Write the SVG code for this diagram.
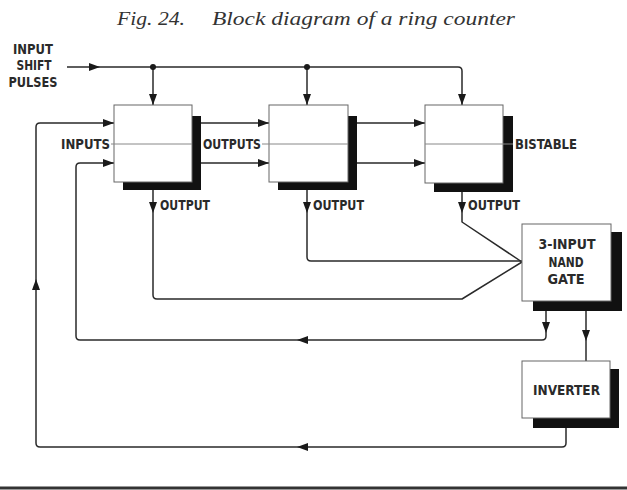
<svg xmlns="http://www.w3.org/2000/svg" xmlns:xlink="http://www.w3.org/1999/xlink" width="627" height="490" viewBox="0 0 627 490">
<style>
.lbl{font-family:"DejaVu Sans Condensed","Liberation Sans Narrow","Liberation Sans",sans-serif;font-size:13.5px;font-weight:bold;fill:#2a2a2a;}
.ttl{font-family:"Liberation Serif","Times New Roman",serif;font-style:italic;font-size:19px;fill:#333;}
.box{fill:#fff;stroke:#666;stroke-width:1;}
.shd{fill:#111;}
.mid{stroke:#888;stroke-width:1;fill:none;}
.wire{fill:none;stroke:#2a2a2a;stroke-width:1.5;stroke-linejoin:round;}
</style>
<defs>
<path id="ah" d="M0,0 L-11,-4 L-11,4 Z" fill="#1a1a1a"/>
</defs>
<rect width="627" height="490" fill="#fff"/>
<text class="ttl" x="117" y="25" textLength="68" lengthAdjust="spacingAndGlyphs">Fig. 24.</text>
<text class="ttl" x="212" y="25" textLength="303" lengthAdjust="spacingAndGlyphs">Block diagram of a ring counter</text>

<g id="input-label">
<text class="lbl" x="33" y="54" text-anchor="middle" textLength="40" lengthAdjust="spacingAndGlyphs">INPUT</text>
<text class="lbl" x="34" y="70" text-anchor="middle" textLength="35" lengthAdjust="spacingAndGlyphs">SHIFT</text>
<text class="lbl" x="33" y="87" text-anchor="middle" textLength="49" lengthAdjust="spacingAndGlyphs">PULSES</text>
</g>

<g id="connectors">
<path class="wire" d="M67,67 H458 Q462,67 462,71 V105"/>
<path class="wire" d="M153,67 V105"/>
<path class="wire" d="M307,67 V105"/>
<circle cx="153" cy="67" r="3" fill="#1a1a1a"/>
<circle cx="307" cy="67" r="3" fill="#1a1a1a"/>
<path class="wire" d="M201,123 H269 M201,163 H269 M357,123 H425 M357,163 H425"/>
<path class="wire" d="M114,123 H40 Q36,123 36,127 V443 Q36,447 40,447 H562 Q566,447 566,443 V428"/>
<path class="wire" d="M114,163 H80 Q76,163 76,167 V336 Q76,340 80,340 H542 Q546,340 546,336 V311"/>
<path class="wire" d="M153,190 V295 Q153,299 157,299 H462 L522,262"/>
<path class="wire" d="M307,190 V257 Q307,261 311,261 H522"/>
<path class="wire" d="M462,192 V222 L522,262"/>
<path class="wire" d="M586,311 V361"/>
<use xlink:href="#ah" transform="translate(100,67)"/>
<use xlink:href="#ah" transform="translate(153,105) rotate(90)"/>
<use xlink:href="#ah" transform="translate(307,105) rotate(90)"/>
<use xlink:href="#ah" transform="translate(462,105) rotate(90)"/>
<use xlink:href="#ah" transform="translate(114,123)"/>
<use xlink:href="#ah" transform="translate(114,163)"/>
<use xlink:href="#ah" transform="translate(269,123)"/>
<use xlink:href="#ah" transform="translate(269,163)"/>
<use xlink:href="#ah" transform="translate(425,123)"/>
<use xlink:href="#ah" transform="translate(425,163)"/>
<use xlink:href="#ah" transform="translate(153,213) rotate(90)"/>
<use xlink:href="#ah" transform="translate(307,213) rotate(90)"/>
<use xlink:href="#ah" transform="translate(462,213) rotate(90)"/>
<use xlink:href="#ah" transform="translate(546,333) rotate(90)"/>
<use xlink:href="#ah" transform="translate(586,341) rotate(90)"/>
<use xlink:href="#ah" transform="translate(297,340) rotate(180)"/>
<use xlink:href="#ah" transform="translate(297,447) rotate(180)"/>
<use xlink:href="#ah" transform="translate(36,279) rotate(-90)"/>
</g>

<g id="bistable1">
<rect class="shd" x="123" y="116" width="78" height="74"/>
<rect class="box" x="114" y="105" width="78" height="77"/>
<path class="mid" d="M111,144 H192"/>
<text class="lbl" x="61" y="149" textLength="49" lengthAdjust="spacingAndGlyphs">INPUTS</text>
<text class="lbl" x="160" y="210" textLength="50" lengthAdjust="spacingAndGlyphs">OUTPUT</text>
</g>

<g id="bistable2">
<rect class="shd" x="278" y="116" width="79" height="74"/>
<rect class="box" x="269" y="105" width="79" height="77"/>
<path class="mid" d="M262,144 H348"/>
<text class="lbl" x="203" y="149" textLength="58" lengthAdjust="spacingAndGlyphs">OUTPUTS</text>
<text class="lbl" x="313" y="210" textLength="51" lengthAdjust="spacingAndGlyphs">OUTPUT</text>
</g>

<g id="bistable3">
<rect class="shd" x="434" y="116" width="79" height="76"/>
<rect class="box" x="425" y="105" width="78" height="78"/>
<path class="mid" d="M425,144 H513"/>
<text class="lbl" x="515" y="149" textLength="62" lengthAdjust="spacingAndGlyphs">BISTABLE</text>
<text class="lbl" x="468" y="210" textLength="52" lengthAdjust="spacingAndGlyphs">OUTPUT</text>
</g>

<g id="nand">
<rect class="shd" x="533" y="232" width="89" height="79"/>
<rect class="box" x="522" y="224" width="89" height="77"/>
<text class="lbl" x="567" y="249" text-anchor="middle" textLength="57" lengthAdjust="spacingAndGlyphs">3-INPUT</text>
<text class="lbl" x="566" y="267" text-anchor="middle" textLength="35" lengthAdjust="spacingAndGlyphs">NAND</text>
<text class="lbl" x="566" y="284" text-anchor="middle" textLength="37" lengthAdjust="spacingAndGlyphs">GATE</text>
</g>

<g id="inverter">
<rect class="shd" x="533" y="369" width="86" height="59"/>
<rect class="box" x="522" y="361" width="88" height="57"/>
<text class="lbl" x="533" y="395" textLength="67" lengthAdjust="spacingAndGlyphs">INVERTER</text>
</g>

<rect x="0" y="486.5" width="627" height="3" fill="#333"/>
</svg>
